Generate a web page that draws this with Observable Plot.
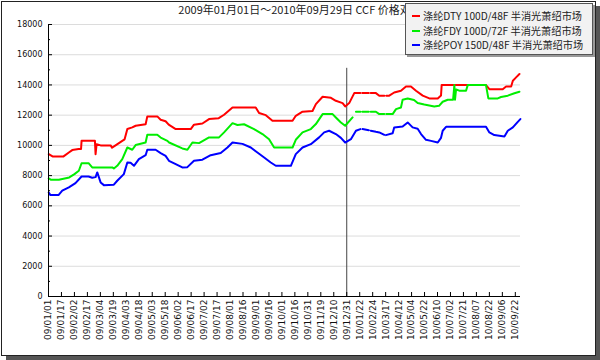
<!DOCTYPE html>
<html><head><meta charset="utf-8">
<script src="https://cdn.jsdelivr.net/npm/d3@7"></script>
<script src="https://cdn.jsdelivr.net/npm/@observablehq/plot@0.6"></script>
<style>
body{margin:0;background:#fff;}
#wrap{position:relative;width:600px;height:360px;overflow:hidden;}
#frame{position:absolute;left:1px;top:1px;width:593px;height:353px;border:1px solid #222;background:#fff;box-shadow:5px 5px 0 #555;}
#chart{position:absolute;left:0;top:0;}
#title{position:absolute;top:3px;left:0;width:600px;text-align:center;font:11px/13px "Noto Sans CJK SC",sans-serif;color:#222;white-space:nowrap;}
#legend{position:absolute;left:405px;top:3px;width:188px;height:52px;background:#f2f2f2;border:1px solid #555;box-shadow:2px 2px 0 #999;font:10.2px/14.5px "Noto Sans CJK SC",sans-serif;color:#222;padding-top:5px;box-sizing:border-box;}
.row{position:relative;height:14.5px;white-space:nowrap;}
.sw{position:absolute;left:6px;top:6px;width:8px;height:2px;}
.lt{position:absolute;left:17px;top:0;}
</style></head>
<body>
<div id="wrap">
  <div id="frame"></div>
  <div id="chart"></div>
  <div id="title"></div>
  <div id="legend"></div>
</div>
<script>
const titleText = "2009年01月01日～2010年09月29日 CCF 价格对比";
const seriesNames = ["涤纶DTY 100D/48F 半消光萧绍市场", "涤纶FDY 100D/72F 半消光萧绍市场", "涤纶POY 150D/48F 半消光萧绍市场"];
const seriesColors = ["#ff0000", "#00ee00", "#0000ff"];
const xLabels = ["09/01/01","09/01/17","09/02/02","09/02/17","09/03/04","09/03/19","09/04/03","09/04/18","09/05/03","09/05/18","09/06/02","09/06/17","09/07/02","09/07/17","09/08/01","09/08/16","09/09/01","09/09/16","09/10/01","09/10/16","09/10/31","09/11/19","09/12/10","09/12/31","10/01/22","10/02/24","10/03/17","10/04/12","10/05/04","10/05/22","10/06/10","10/07/02","10/07/21","10/08/07","10/08/22","10/09/06","10/09/22"];
const yTicks = [0,2000,4000,6000,8000,10000,12000,14000,16000,18000];
const yMinor = [1000,3000,5000,7000,9000,11000,13000,15000,17000];
const dividerAt = [23];      // year boundary (09/12/31)
const dividerTop = 15100;

// [position in tick units, price]
const dty = [[0.02,9420],[0.31,9270],[1.16,9270],[1.57,9530],[1.83,9690],[2.32,9760],[2.51,9760],[2.55,10300],[3.58,10300],[3.63,9420],[3.71,10080],[4.02,10000],[4.79,10000],[4.90,9850],[5.17,10000],[5.69,10300],[5.87,10400],[6.08,11080],[6.46,11190],[6.72,11300],[7.49,11400],[7.62,11920],[8.39,11920],[8.65,11700],[9.03,11600],[9.27,11370],[9.81,11080],[10.97,11080],[11.22,11370],[11.87,11450],[12.38,11740],[13.13,11800],[13.54,12030],[14.19,12510],[15.98,12510],[16.24,12140],[16.76,12000],[17.27,11630],[18.82,11630],[19.07,11960],[19.59,12230],[20.36,12280],[20.62,12730],[21.14,13220],[21.78,13150],[22.16,12950],[22.68,12800],[22.88,12580],[23.19,12800],[23.58,13460],[24.05,13460],[24.1,null],[24.2,13460],[24.7,13460],[24.75,null],[24.85,13460],[25.25,13460],[25.51,13290],[25.9,13290],[25.95,null],[26.05,13290],[26.28,13290],[26.66,13500],[27.18,13620],[27.57,13900],[27.95,13900],[28.34,13620],[28.86,13290],[29.37,13110],[30.02,13110],[30.27,13300],[30.32,13990],[33.74,13990],[34.00,13720],[35.03,13720],[35.29,13900],[35.68,13900],[35.81,14280],[36.06,14500],[36.32,14720]];
const fdy = [[0.02,7810],[0.2,7720],[0.8,7720],[1.6,7880],[2.0,8100],[2.34,8320],[2.55,8820],[3.09,8820],[3.37,8540],[4.92,8540],[5.04,8470],[5.30,8650],[5.69,9090],[6.08,9860],[6.46,9710],[6.72,10020],[7.49,10190],[7.62,10700],[8.39,10700],[8.65,10520],[9.17,10300],[9.30,10190],[10.32,9800],[10.71,9710],[11.10,10190],[11.61,10150],[12.38,10530],[13.15,10530],[13.54,10860],[14.19,11470],[14.57,11350],[15.08,11400],[15.85,11080],[16.5,10750],[17.01,10410],[17.40,9860],[18.82,9860],[19.07,10370],[19.59,10860],[20.23,11080],[20.62,11410],[21.14,12070],[21.91,12070],[22.16,11850],[22.55,11520],[22.88,11300],[23.45,11850],[23.5,null],[23.71,12230],[24.05,12230],[24.1,null],[24.2,12230],[24.7,12230],[24.75,null],[24.85,12230],[25.25,12230],[25.51,12070],[25.9,12070],[25.95,null],[26.05,12070],[26.54,12070],[26.80,12400],[27.18,12510],[27.31,13020],[27.70,13100],[28.19,13000],[28.47,12800],[28.98,12700],[29.75,12580],[30.12,12620],[30.40,12890],[30.79,13020],[31.20,13020],[31.30,13990],[31.35,13020],[31.43,13700],[31.68,13620],[32.2,13620],[32.33,13990],[33.74,13990],[33.92,13110],[34.65,13110],[34.90,13200],[35.42,13290],[35.93,13450],[36.32,13550]];
const poy = [[0.02,6880],[0.15,6710],[0.77,6710],[1.06,7000],[1.57,7220],[2.08,7500],[2.55,7940],[3.09,7940],[3.37,7860],[3.63,7900],[3.76,8210],[4.02,7550],[4.27,7370],[5.04,7400],[5.30,7660],[5.81,8100],[6.08,8870],[6.33,8850],[6.59,8650],[6.97,9090],[7.49,9350],[7.62,9710],[8.26,9710],[8.65,9490],[9.03,9310],[9.29,8980],[9.81,8760],[10.32,8540],[10.71,8560],[11.22,8980],[11.87,9050],[12.51,9350],[13.28,9490],[13.80,9860],[14.19,10190],[14.96,10100],[15.60,9860],[16.11,9530],[16.63,9200],[17.14,8870],[17.53,8650],[18.69,8650],[19.07,9420],[19.59,9860],[20.23,10080],[20.87,10530],[21.26,10860],[21.64,10970],[22.16,10750],[22.55,10500],[22.88,10190],[23.32,10410],[23.71,10970],[24.05,11080],[24.1,null],[24.22,11080],[24.7,11000],[24.75,null],[24.85,10970],[25.25,10900],[25.51,10860],[25.9,10700],[25.95,null],[26.02,10680],[26.54,10800],[26.66,11190],[27.31,11250],[27.70,11520],[28.08,11190],[28.47,11100],[28.73,10750],[29.11,10370],[29.50,10300],[30.02,10190],[30.27,10500],[30.40,10970],[30.66,11230],[33.74,11230],[34.0,10860],[34.38,10680],[35.16,10590],[35.42,10970],[35.81,11190],[36.19,11560],[36.39,11740]];

const series = [dty, fdy, poy];
const fontAxis = "DejaVu Sans, sans-serif";

const marks = [
  Plot.ruleY(yTicks.slice(1), {stroke: "#dcdcdc", strokeWidth: 1}),
  Plot.ruleX(dividerAt, {y1: 0, y2: dividerTop, stroke: "#444", strokeWidth: 1}),
  ...series.map((s, i) => Plot.line(s, {x: d => d[0], y: d => d[1], stroke: seriesColors[i], strokeWidth: 2, curve: "linear"})),
  Plot.ruleY([0], {stroke: "#000"}),
  Plot.ruleX([0], {stroke: "#000"}),
  Plot.tickY(yTicks, {y: d => d, stroke: "#000", insetRight: 468}),
  Plot.tickY(yMinor, {y: d => d, stroke: "#000", insetRight: 470}),
  Plot.tickX(d3.range(xLabels.length), {x: d => d, stroke: "#000", insetTop: 268}),
  Plot.axisY({ticks: yTicks, tickSize: 0, tickPadding: 6, tickFormat: d => String(d), fontSize: 8, fontFamily: fontAxis, fill: "#111"}),
  Plot.axisX({ticks: d3.range(xLabels.length), tickSize: 0, tickPadding: 3, tickRotate: -90, tickFormat: i => xLabels[i], fontSize: 9, fontFamily: fontAxis, fill: "#111"})
];

const chart = Plot.plot({
  width: 600, height: 360,
  marginLeft: 48, marginRight: 80, marginTop: 24, marginBottom: 64,
  x: {domain: [0, 36.4], axis: null},
  y: {domain: [0, 18000], axis: null},
  style: {background: "transparent", overflow: "visible"},
  marks
});
document.getElementById("chart").appendChild(chart);
document.getElementById("title").textContent = titleText;
const leg = document.getElementById("legend");
seriesNames.forEach((n, i) => {
  const r = document.createElement("div"); r.className = "row";
  const sw = document.createElement("span"); sw.className = "sw"; sw.style.background = seriesColors[i];
  const t = document.createElement("span"); t.className = "lt"; t.textContent = n;
  r.appendChild(sw); r.appendChild(t); leg.appendChild(r);
});
</script>
</body></html>
